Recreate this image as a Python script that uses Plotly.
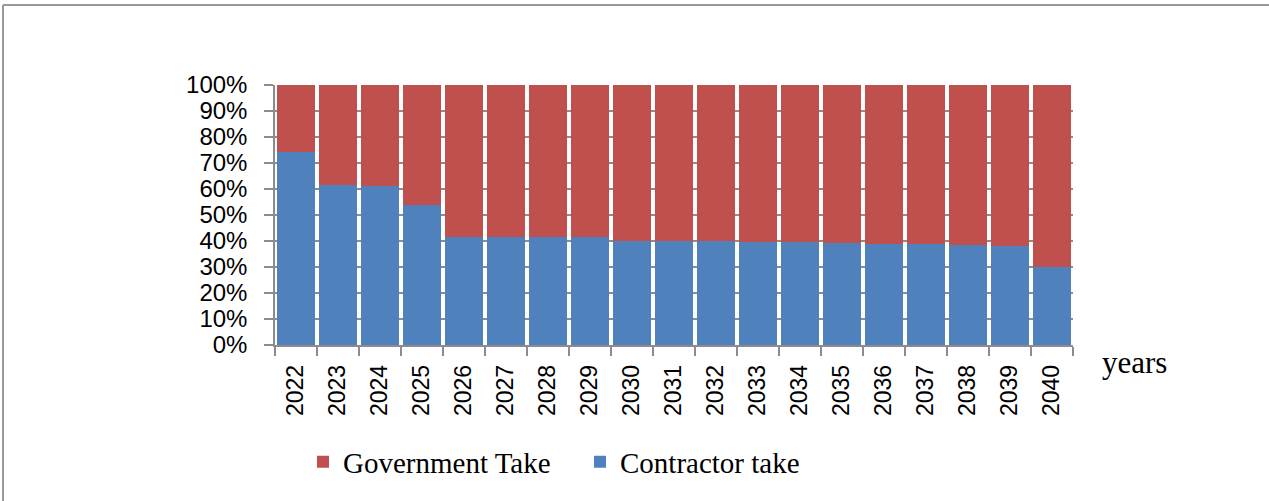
import plotly.graph_objects as go

YEARS = [str(y) for y in range(2022, 2041)]
CONTRACTOR_TAKE = [74.1, 61.5, 61.1, 53.7, 41.6, 41.6, 41.6, 41.6, 40.1, 40.0,
                   39.9, 39.8, 39.5, 39.3, 39.0, 38.8, 38.5, 38.0, 30.0]
GOVERNMENT_TAKE = [100 - v for v in CONTRACTOR_TAKE]
Y_TICKS = list(range(0, 101, 10))
Y_TICK_LABELS = [f"{v}%" for v in Y_TICKS]

BLUE = "#4F81BD"
RED = "#C0504D"
GRID = "#8C8C8C"

W, H = 1269, 501
L, R, T, B = 275, 1073, 85, 345  # plot area in px


def px_x(x):
    return (x - L) / (R - L)


def px_y(y):
    return (B - y) / (B - T)


fig = go.Figure()
fig.add_trace(go.Bar(x=YEARS, y=CONTRACTOR_TAKE, name="Contractor take",
                     marker=dict(color=BLUE, line=dict(width=0))))
fig.add_trace(go.Bar(x=YEARS, y=GOVERNMENT_TAKE, name="Government Take",
                     marker=dict(color=RED, line=dict(width=0))))

fig.update_layout(
    width=W, height=H,
    margin=dict(l=L, r=W - R, t=T, b=H - B, pad=0),
    barmode="stack",
    bargap=0.1,
    plot_bgcolor="white",
    paper_bgcolor="white",
    font=dict(family="Liberation Sans, Arial", size=24, color="black"),
    legend=dict(
        orientation="h", traceorder="reversed",
        x=px_x(303), xanchor="left",
        y=px_y(462), yanchor="middle",
        font=dict(family="Liberation Serif, Times New Roman", size=29),
        entrywidth=232, entrywidthmode="pixels",
    ),
    showlegend=True,
)
fig.update_xaxes(
    type="category",
    showline=True, linecolor=GRID, linewidth=1.5,
    ticks="outside", tickson="boundaries", ticklen=9, tickcolor=GRID, tickwidth=1.5,
    tickangle=-90, ticklabelstandoff=9, showgrid=False,
    tickfont=dict(size=23),
)
fig.update_yaxes(
    range=[0, 100], tickmode="array", tickvals=Y_TICKS, ticktext=Y_TICK_LABELS,
    showline=True, linecolor=GRID, linewidth=1.5,
    ticks="outside", ticklen=9, tickcolor=GRID, tickwidth=1.5,
    ticklabelstandoff=12,
    showgrid=True, gridcolor=GRID, gridwidth=1.5,
    zeroline=False,
)

fig.add_annotation(
    text="years", xref="paper", yref="paper",
    x=px_x(1100), y=px_y(362), xanchor="left", yanchor="middle",
    showarrow=False,
    font=dict(family="Liberation Serif, Times New Roman", size=31, color="black"),
)

# outer frame of the chart (top and left edges)
fig.add_shape(type="line", xref="paper", yref="paper",
              x0=px_x(3), x1=px_x(1269), y0=px_y(5), y1=px_y(5),
              line=dict(color="#999999", width=2))
fig.add_shape(type="line", xref="paper", yref="paper",
              x0=px_x(3), x1=px_x(3), y0=px_y(5), y1=px_y(501),
              line=dict(color="#999999", width=2))

fig.write_html("out.html", config={"displayModeBar": False},
               post_script="document.body.style.margin = '0';")
